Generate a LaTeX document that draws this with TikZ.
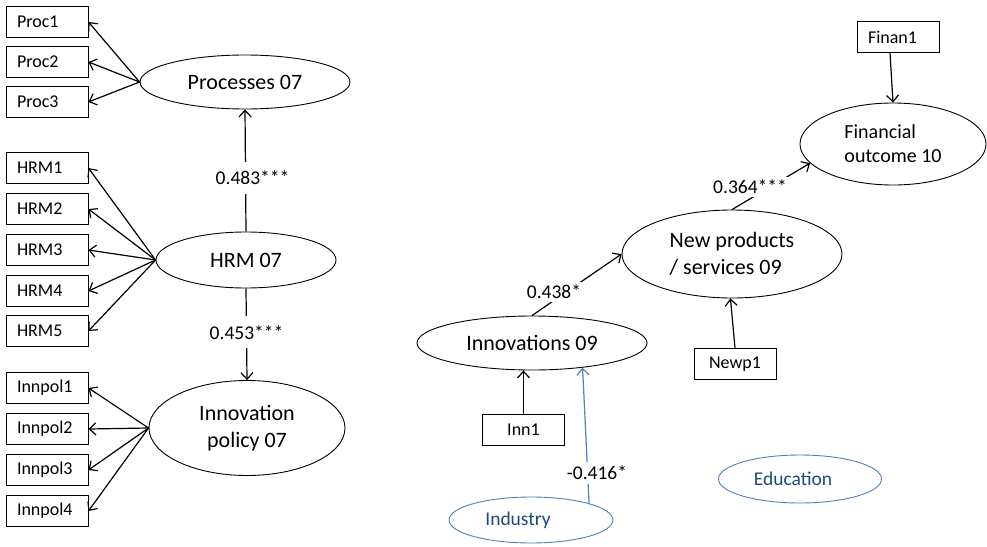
\documentclass[tikz,border=0pt]{standalone}
\usepackage{fontspec}
\setmainfont{Carlito}
\usetikzlibrary{shapes.geometric,arrows.meta}
\definecolor{edublue}{RGB}{79,129,189}
\definecolor{edutext}{RGB}{31,73,125}
\begin{document}
\begin{tikzpicture}[x=1pt,y=-1pt,
  ind/.style={draw,line width=0.9pt,rectangle,minimum width=82pt,minimum height=31pt,inner xsep=11pt,text width=60pt,align=left,font=\fontsize{18}{21}\selectfont},
  indc/.style={draw,line width=0.9pt,rectangle,minimum width=82pt,minimum height=31pt,inner sep=0pt,font=\fontsize{18}{21}\selectfont},
  lat/.style={draw,line width=0.9pt,ellipse,inner sep=0pt,font=\fontsize{22}{27}\selectfont},
  ctl/.style={draw=edublue,line width=0.9pt,ellipse,inner sep=0pt,text=edutext,font=\fontsize{19.5}{23}\selectfont},
  arr/.style={line width=1.2pt,-{Straight Barb[length=6.5pt,width=12pt]}},
  coef/.style={fill=white,inner xsep=2pt,inner ysep=6pt,font=\fontsize{19.5}{23}\selectfont}
]
\useasboundingbox (0,0) rectangle (987,546);
\fill[white] (0,0) rectangle (987,546);

% Left measurement model
\node[ind] (p1) at (47,22) {Proc1};
\node[ind] (p2) at (47,62) {Proc2};
\node[ind] (p3) at (47,102) {Proc3};
\node[ind] (h1) at (47,168) {HRM1};
\node[ind] (h2) at (47,209) {HRM2};
\node[ind] (h3) at (47,250) {HRM3};
\node[ind] (h4) at (47,291) {HRM4};
\node[ind] (h5) at (47,331) {HRM5};
\node[ind] (i1) at (47,388) {Innpol1};
\node[ind] (i2) at (47,429) {Innpol2};
\node[ind] (i3) at (47,470) {Innpol3};
\node[ind] (i4) at (47,511) {Innpol4};

\node[lat,minimum width=210pt,minimum height=54pt] (proc) at (245,82) {Processes 07};
\node[lat,minimum width=180pt,minimum height=56pt] (hrm) at (246,260) {HRM 07};
\node[lat,minimum width=196pt,minimum height=95pt,align=center] (ipol) at (247,428) {Innovation\\policy 07};

\foreach \b in {p1,p2,p3} \draw[arr] (proc.west) -- (\b.east);
\foreach \b in {h1,h2,h3,h4,h5} \draw[arr] (hrm.west) -- (\b.east);
\foreach \b in {i1,i2,i3,i4} \draw[arr] (ipol.west) -- (\b.east);

\draw[arr] (hrm.north) -- node[coef,inner ysep=9pt,xshift=7pt,yshift=-7pt] {0.483***} (proc.south);
\draw[arr] (hrm.south) -- node[coef,inner ysep=9pt,yshift=2pt] {0.453***} (ipol.north);

% Right structural model
\node[lat,minimum width=230pt,minimum height=54pt] (inn) at (532,343) {Innovations 09};
\node[lat,minimum width=220pt,minimum height=88pt,align=left] (newp) at (732,254) {New products\\/ services 09};
\node[lat,minimum width=186pt,minimum height=82pt,align=left,font=\fontsize{20}{24}\selectfont] (fin) at (893,144) {Financial\\outcome 10};

\node[indc] (inn1) at (523.5,429.5) {Inn1};
\node[indc] (newp1) at (735,364) {Newp1};
\node[ind] (fin1) at (898,37) {Finan1};

\node[ctl,minimum width=164pt,minimum height=46pt] (indus) at (531,520) {Industry\hspace*{26pt}};
\node[ctl,minimum width=163pt,minimum height=48pt] (edu) at (800,479) {Education\hspace*{14pt}};

\draw[arr] (inn1.north) -- (inn1.north |- inn.south);
\draw[arr] (newp1.north) -- (newp.-92);
\draw[arr] ([xshift=-8pt]fin1.south) -- (fin.north);

\draw[arr] (inn.north) -- (newp.west);
\node[coef,inner ysep=3pt] (c1) at (554,292) {0.438*};
\draw[arr] (newp.north) -- (fin.193);
\node[coef,inner ysep=3pt] (c2) at (750,187) {0.364***};

\draw[arr,edublue] (indus.16) -- (inn.-26);
\node[coef,inner ysep=4pt] (c3) at (597,473) {-0.416*};
\end{tikzpicture}
\end{document}
